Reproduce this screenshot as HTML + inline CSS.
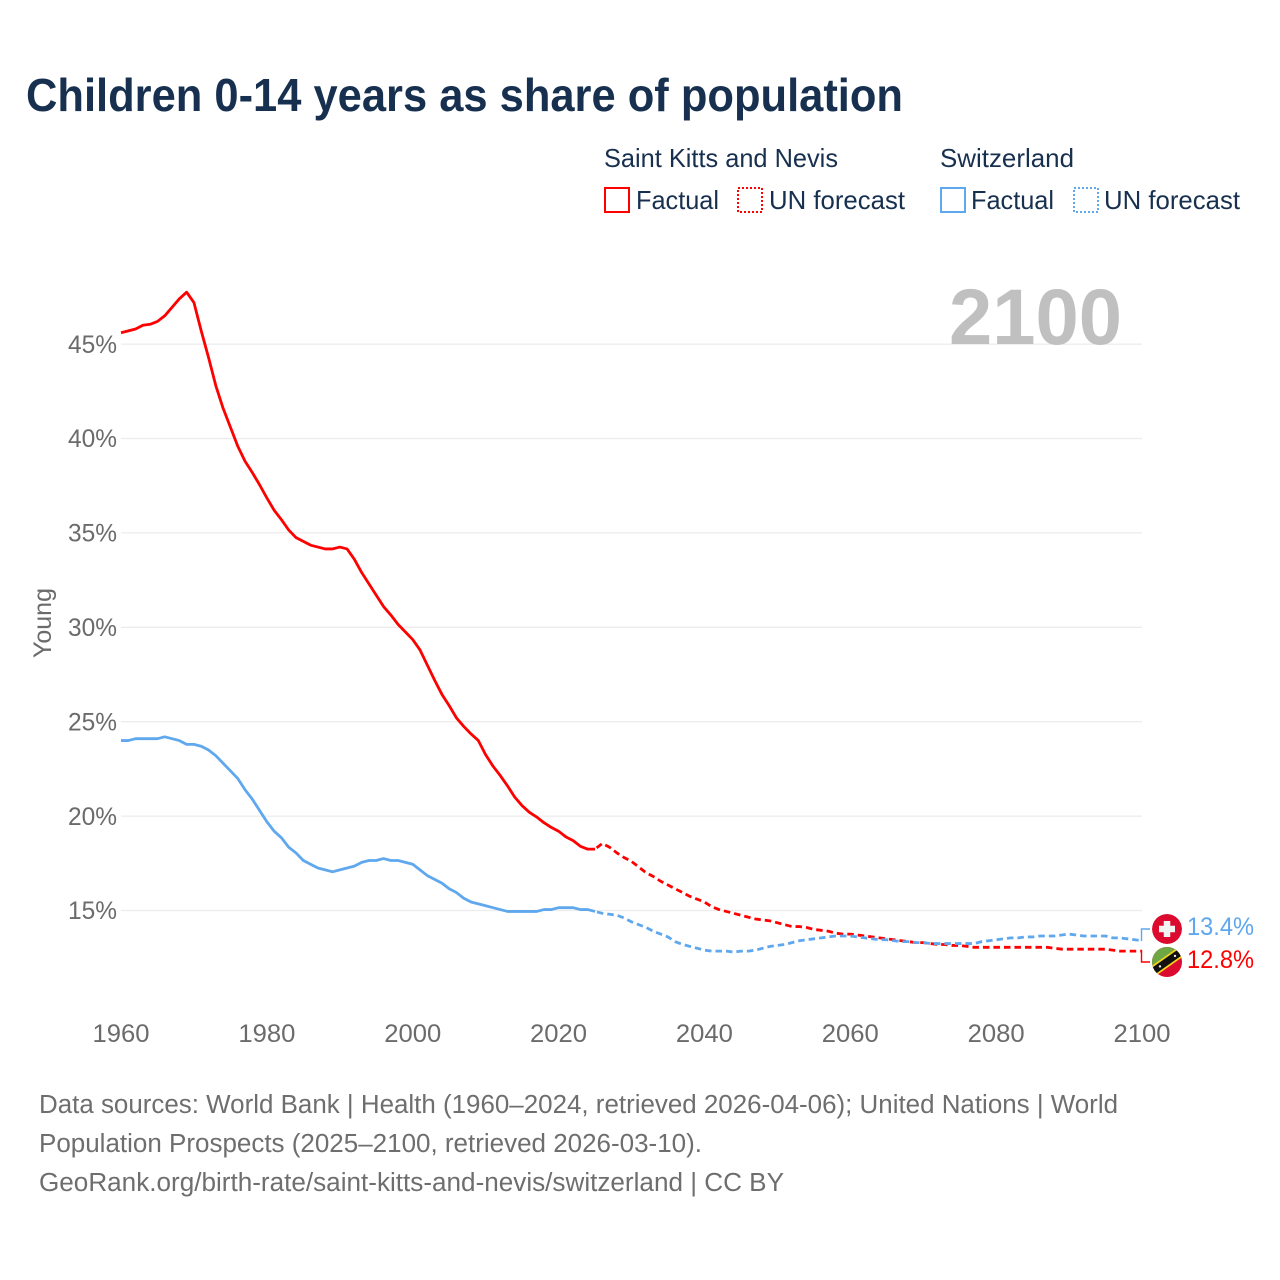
<!DOCTYPE html>
<html lang="en">
<head>
<meta charset="utf-8">
<title>Children 0-14 years as share of population</title>
<style>
html,body{margin:0;padding:0;background:#fff;}
svg{display:block;font-family:"Liberation Sans",sans-serif;}
</style>
</head>
<body>
<svg id="chart" xmlns="http://www.w3.org/2000/svg" width="1280" height="1280" viewBox="0 0 1280 1280">
  <defs>
    <clipPath id="ch-clip"><circle cx="1167" cy="929" r="15"/></clipPath>
    <clipPath id="kn-clip"><circle cx="1167" cy="962" r="15"/></clipPath>
  </defs>
  <rect width="1280" height="1280" fill="#fff"/>
  <text x="26" y="111" font-size="46" font-weight="700" fill="#18304f" textLength="877" lengthAdjust="spacingAndGlyphs">Children 0-14 years as share of population</text>

  <g font-size="26" fill="#18304f">
    <text x="604" y="167" textLength="234" lengthAdjust="spacingAndGlyphs">Saint Kitts and Nevis</text>
    <text x="940" y="167" textLength="134" lengthAdjust="spacingAndGlyphs">Switzerland</text>
    <rect x="605" y="188" width="24" height="24" fill="none" stroke="#ff0000" stroke-width="2"/>
    <text x="636" y="209" textLength="83" lengthAdjust="spacingAndGlyphs">Factual</text>
    <rect x="738" y="188" width="24" height="24" fill="none" stroke="#ff0000" stroke-width="2" stroke-dasharray="2 2"/>
    <text x="769" y="209" textLength="136" lengthAdjust="spacingAndGlyphs">UN forecast</text>
    <rect x="941" y="188" width="24" height="24" fill="none" stroke="#5fa8ee" stroke-width="2"/>
    <text x="971" y="209" textLength="83" lengthAdjust="spacingAndGlyphs">Factual</text>
    <rect x="1074" y="188" width="24" height="24" fill="none" stroke="#5fa8ee" stroke-width="2" stroke-dasharray="2 2"/>
    <text x="1104" y="209" textLength="136" lengthAdjust="spacingAndGlyphs">UN forecast</text>
  </g>

  <g id="grid"></g>
  <text x="949" y="344" font-size="79" font-weight="700" fill="#c0c0c0" textLength="173" lengthAdjust="spacingAndGlyphs">2100</text>
  <g id="yticks" font-size="25" fill="#6b6b6b"></g>
  <g id="xticks" font-size="25" fill="#6b6b6b"></g>
  <text transform="translate(51,623) rotate(-90)" text-anchor="middle" font-size="25" fill="#6b6b6b" textLength="70" lengthAdjust="spacingAndGlyphs">Young</text>
  <g id="series"></g>

  <path d="M1141.5 941V929H1150" fill="none" stroke="#5fa8ee" stroke-width="1.4"/>
  <path d="M1141.5 950V962H1150" fill="none" stroke="#ff0000" stroke-width="1.4"/>

  <g clip-path="url(#ch-clip)">
    <circle cx="1167" cy="929" r="15" fill="#dc0a2e"/>
    <rect x="1163.75" y="921" width="6.5" height="16" fill="#f2f2f2"/>
    <rect x="1159" y="925.75" width="16" height="6.5" fill="#f2f2f2"/>
  </g>
  <g clip-path="url(#kn-clip)">
    <rect x="1150" y="945" width="34" height="34" fill="#dc0a2e"/>
    <path d="M1150 945H1184V949.5L1150 973.5Z" fill="#6fa644"/>
    <path d="M1150 973.5L1184 949.5" stroke="#f4d21f" stroke-width="10.5"/>
    <path d="M1150 973.5L1184 949.5" stroke="#111" stroke-width="7"/>
    <circle cx="1160" cy="966.4" r="1.2" fill="#eee"/>
    <circle cx="1175" cy="955.9" r="1.2" fill="#eee"/>
  </g>

  <text x="1187" y="935" font-size="25" fill="#5fa8ee" textLength="67" lengthAdjust="spacingAndGlyphs">13.4%</text>
  <text x="1187" y="968" font-size="25" fill="#ff0000" textLength="67" lengthAdjust="spacingAndGlyphs">12.8%</text>

  <g font-size="25.5" fill="#6e6e6e">
    <text x="39" y="1113" textLength="1079" lengthAdjust="spacingAndGlyphs">Data sources: World Bank | Health (1960–2024, retrieved 2026-04-06); United Nations | World</text>
    <text x="39" y="1152" textLength="663" lengthAdjust="spacingAndGlyphs">Population Prospects (2025–2100, retrieved 2026-03-10).</text>
    <text x="39" y="1191" textLength="745" lengthAdjust="spacingAndGlyphs">GeoRank.org/birth-rate/saint-kitts-and-nevis/switzerland | CC BY</text>
  </g>
</svg>
<script>
const yTickValues = [15, 20, 25, 30, 35, 40, 45];
const xTickYears = [1960, 1980, 2000, 2020, 2040, 2060, 2080, 2100];
const factualStartYear = 1960;
const forecastStartYear = 2025;
const sknFactual = [45.6,45.7,45.8,46.0,46.05,46.2,46.5,46.95,47.4,47.75,47.2,45.7,44.3,42.8,41.6,40.6,39.6,38.8,38.2,37.55,36.85,36.2,35.7,35.15,34.75,34.55,34.35,34.25,34.15,34.15,34.25,34.15,33.6,32.9,32.3,31.7,31.1,30.65,30.15,29.75,29.35,28.8,28.0,27.2,26.45,25.85,25.2,24.75,24.35,24.0,23.25,22.65,22.15,21.6,21.0,20.55,20.2,19.95,19.65,19.4,19.2,18.9,18.7,18.4,18.25,18.25];
const sknForecast = [18.25,18.55,18.35,18.05,17.8,17.6,17.3,17.0,16.8,16.55,16.35,16.15,15.95,15.75,15.6,15.45,15.2,15.05,14.95,14.85,14.75,14.65,14.55,14.5,14.45,14.35,14.25,14.15,14.15,14.1,14.0,13.95,13.9,13.8,13.75,13.75,13.7,13.65,13.6,13.55,13.5,13.45,13.4,13.35,13.3,13.3,13.25,13.2,13.2,13.15,13.15,13.1,13.05,13.05,13.05,13.05,13.05,13.05,13.05,13.05,13.05,13.05,13.05,13.0,12.95,12.95,12.95,12.95,12.95,12.95,12.95,12.9,12.85,12.85,12.85,12.85];
const cheFactual = [24.0,24.0,24.1,24.1,24.1,24.1,24.2,24.1,24.0,23.8,23.8,23.7,23.5,23.2,22.8,22.4,22.0,21.4,20.9,20.3,19.7,19.2,18.85,18.35,18.05,17.65,17.45,17.25,17.15,17.05,17.15,17.25,17.35,17.55,17.65,17.65,17.75,17.65,17.65,17.55,17.45,17.15,16.85,16.65,16.45,16.15,15.95,15.65,15.45,15.35,15.25,15.15,15.05,14.95,14.95,14.95,14.95,14.95,15.05,15.05,15.15,15.15,15.15,15.05,15.05,14.95];
const cheForecast = [14.95,14.85,14.8,14.75,14.6,14.4,14.25,14.1,13.9,13.75,13.6,13.35,13.2,13.1,13.0,12.9,12.85,12.85,12.85,12.8,12.85,12.85,12.9,13.0,13.1,13.15,13.2,13.3,13.4,13.45,13.5,13.55,13.6,13.65,13.65,13.65,13.6,13.55,13.5,13.45,13.45,13.4,13.35,13.35,13.3,13.3,13.25,13.25,13.25,13.25,13.25,13.25,13.25,13.35,13.4,13.45,13.5,13.55,13.55,13.6,13.6,13.65,13.65,13.65,13.7,13.75,13.7,13.65,13.65,13.65,13.65,13.55,13.55,13.5,13.45,13.4];

const NS = 'http://www.w3.org/2000/svg';
function xScale(year) { return 121 + (year - 1960) * (1021 / 140); }
function yScale(v) { return 910.5 - (v - 15) * 18.88; }
function pathFor(values, startYear) {
  return values.map(function (v, i) {
    return (i ? 'L' : 'M') + xScale(startYear + i).toFixed(2) + ' ' + yScale(v).toFixed(2);
  }).join('');
}

const gridGroup = document.getElementById('grid');
const yGroup = document.getElementById('yticks');
yTickValues.forEach(function (v) {
  const line = document.createElementNS(NS, 'line');
  
  
  line.setAttribute('x1', xScale(1960));
  line.setAttribute('x2', xScale(2100));
  line.setAttribute('y1', yScale(v));
  line.setAttribute('y2', yScale(v));
  line.setAttribute('stroke', '#ececec');
  line.setAttribute('stroke-width', '1.3');
  gridGroup.appendChild(line);
  const label = document.createElementNS(NS, 'text');
  
  
  label.setAttribute('x', 117);
  label.setAttribute('y', yScale(v) + 8.7);
  label.setAttribute('text-anchor', 'end');
  label.setAttribute('textLength', '49');
  label.setAttribute('lengthAdjust', 'spacingAndGlyphs');
  label.textContent = v + '%';
  yGroup.appendChild(label);
});

const xGroup = document.getElementById('xticks');
xTickYears.forEach(function (year) {
  const label = document.createElementNS(NS, 'text');
  
  
  label.setAttribute('x', xScale(year));
  label.setAttribute('y', 1042);
  label.setAttribute('text-anchor', 'middle');
  label.setAttribute('textLength', '57');
  label.setAttribute('lengthAdjust', 'spacingAndGlyphs');
  label.textContent = year;
  xGroup.appendChild(label);
});

const seriesGroup = document.getElementById('series');
function addLine(name, values, startYear, color, dashed) {
  const p = document.createElementNS(NS, 'path');
  
  
  p.setAttribute('d', pathFor(values, startYear));
  p.setAttribute('fill', 'none');
  p.setAttribute('stroke', color);
  p.setAttribute('stroke-width', '2.8');
  p.setAttribute('stroke-linejoin', 'round');
  if (dashed) {
    p.setAttribute('stroke-dasharray', '6.5 4');
    p.setAttribute('stroke-dashoffset', '8.5');
  }
  seriesGroup.appendChild(p);
}
addLine('line-saint-kitts-factual', sknFactual, factualStartYear, '#ff0000', false);
addLine('line-saint-kitts-forecast', sknForecast, forecastStartYear, '#ff0000', true);
addLine('line-switzerland-factual', cheFactual, factualStartYear, '#5fa8ee', false);
addLine('line-switzerland-forecast', cheForecast, forecastStartYear, '#5fa8ee', true);
</script>
</body>
</html>
